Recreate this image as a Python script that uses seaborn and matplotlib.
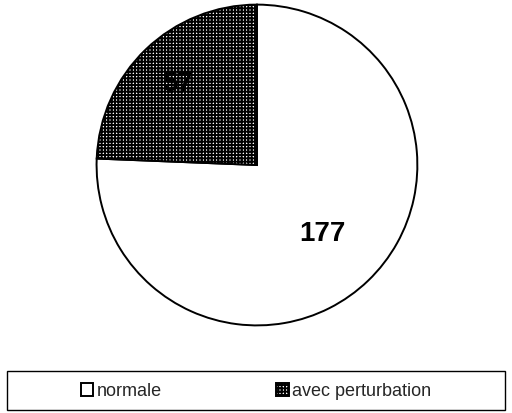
import matplotlib
matplotlib.use('Agg')
import matplotlib.pyplot as plt
import seaborn as sns
from matplotlib.patches import Patch, Rectangle


sns.set_theme(style='white')
plt.rcParams['font.family'] = ['Liberation Sans', 'DejaVu Sans']
plt.rcParams['hatch.linewidth'] = 1.4
plt.rcParams['hatch.color'] = 'black'

# data
categories = ['normale', 'avec perturbation']
counts = [177, 57]
hatches = ['', '+++++']
label_dist = [0.59, 0.71]


def draw_pie(ax):
    wedges, texts, autotexts = ax.pie(
        counts, startangle=90, counterclock=False,
        colors=['white', 'white'], hatch=hatches,
        wedgeprops={'edgecolor': 'black', 'linewidth': 1.4},
        autopct=lambda p: '%d' % round(p * sum(counts) / 100),
        pctdistance=1.0)
    for t, d in zip(autotexts, label_dist):
        x, y = t.get_position()
        t.set_position((x * d, y * d))
        t.set_fontsize(20)
        t.set_fontweight('bold')
        t.set_color('black')
    ax.set_xlim(-1.01, 1.01)
    ax.set_ylim(-1.01, 1.01)
    ax.set_aspect('equal')
    return wedges


def main():
    fig = plt.figure(figsize=(5.12, 4.14), dpi=100)
    ax = fig.add_axes([0.1855, 0.2077, 0.6328, 0.7826])
    draw_pie(ax)

    handles = [Patch(facecolor='white', edgecolor='black', hatch=h, linewidth=1.4)
               for h in hatches]
    fig.legend(handles, categories, ncol=2, loc='center',
               bbox_to_anchor=(0.5, 1 - 392 / 414), frameon=False,
               fontsize=13, handlelength=0.7, handleheight=0.7,
               handletextpad=0.2, columnspacing=6.3)
    fig.patches.append(Rectangle((7 / 512, 1 - 411 / 414), 498 / 512, 39 / 414,
                                 transform=fig.transFigure, fill=False,
                                 edgecolor='black', linewidth=1.0))
    fig.savefig('out.png', dpi=100)


if __name__ == '__main__':
    main()
